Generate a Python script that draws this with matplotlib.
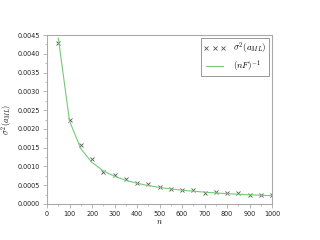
import matplotlib
matplotlib.use("Agg")
import matplotlib.pyplot as plt
from matplotlib.ticker import MultipleLocator

n = [50, 100, 150, 200, 250, 300, 350, 400, 450, 500, 550, 600, 650, 700, 750, 800, 850, 900, 950, 1000]
sigma2 = [0.00428, 0.00224, 0.00157, 0.00120, 0.00086, 0.00077, 0.00066, 0.00057, 0.00052, 0.00046,
          0.00041, 0.00038, 0.00036, 0.00030, 0.00033, 0.00028, 0.00029, 0.00025, 0.00024, 0.00024]
inv_nF = [0.00442, 0.00221, 0.001473, 0.001105, 0.000884, 0.000737, 0.000631, 0.000553, 0.000491, 0.000442,
          0.000402, 0.000368, 0.000340, 0.000316, 0.000295, 0.000276, 0.000260, 0.000246, 0.000233, 0.000221]

plt.rcParams['mathtext.fontset'] = 'cm'
fig = plt.figure(figsize=(3.2, 2.4), dpi=100)
ax = fig.add_axes([0.147, 0.15, 0.703, 0.704])

ax.plot(n, sigma2, linestyle='none', marker='x', color='#555555', markersize=3, markeredgewidth=0.6,
        label=r'$\sigma^2(a_{ML})$')
ax.plot(n, inv_nF, color='#77c977', linewidth=0.8, label=r'$(nF)^{-1}$')

ax.set_xlim(0, 1000)
ax.set_ylim(0, 0.0045)
ax.xaxis.set_major_locator(MultipleLocator(100))
ax.xaxis.set_minor_locator(MultipleLocator(50))
ax.yaxis.set_major_locator(MultipleLocator(0.0005))
ax.yaxis.set_minor_locator(MultipleLocator(0.00025))
ax.yaxis.set_major_formatter(matplotlib.ticker.FormatStrFormatter('%.4f'))

for s in ax.spines.values():
    s.set_color('#aaaaaa')
    s.set_linewidth(0.8)
ax.tick_params(which='both', direction='out', colors='#aaaaaa', labelcolor='#222222',
               labelsize=4.7, top=False, right=False, pad=2)
ax.tick_params(which='major', length=3, width=0.6)
ax.tick_params(which='minor', length=1.5, width=0.5)

ax.set_xlabel(r'$n$', fontsize=6)
ax.xaxis.set_label_coords(0.5, -0.075)
ax.set_ylabel(r'$\sigma^2(a_{ML})$', fontsize=6)
ax.yaxis.set_label_coords(-0.145, 0.5)

leg = ax.legend(loc='upper right', numpoints=3, fontsize=6.5, fancybox=False, framealpha=1,
                edgecolor='#888888', borderaxespad=0.3, handlelength=2.5, borderpad=0.3,
                labelspacing=0.3)
leg.get_frame().set_linewidth(0.6)

fig.savefig('out.png', dpi=100)
